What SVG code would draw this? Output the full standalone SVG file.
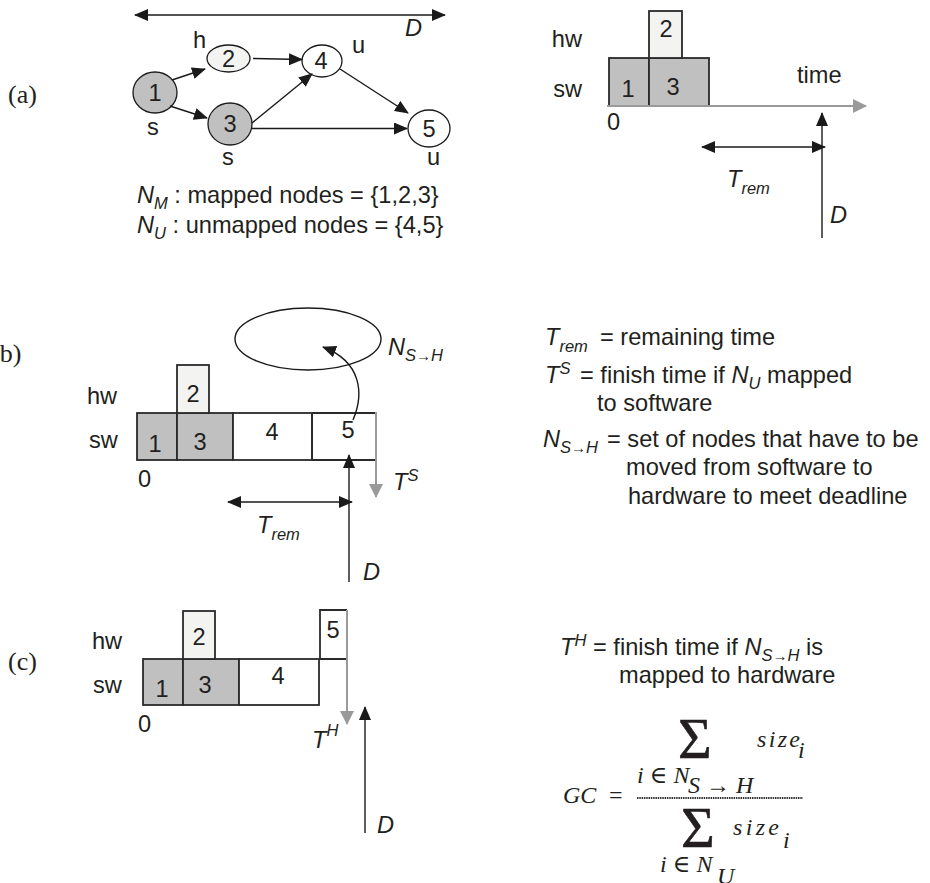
<svg xmlns="http://www.w3.org/2000/svg" width="930" height="883" viewBox="0 0 930 883">
<defs>
<marker id="ah" markerUnits="userSpaceOnUse" markerWidth="14" markerHeight="12" refX="13" refY="6" orient="auto-start-reverse" viewBox="0 0 14 12"><path d="M0,0 L14,6 L0,12 z" fill="#1a1a1a"/></marker>
<marker id="ahg" markerUnits="userSpaceOnUse" markerWidth="14" markerHeight="14" refX="13" refY="7" orient="auto" viewBox="0 0 14 14"><path d="M0,0 L14,7 L0,14 z" fill="#9a9a9a"/></marker>
</defs>
<style>
.t{font-family:"Liberation Sans",Arial,sans-serif;font-size:23.6px;fill:#231f20}
.i{font-style:italic}
.s{font-size:16.5px}
.a{font-size:15px;font-style:normal}
.m{font-family:"Liberation Serif","DejaVu Serif",serif;font-style:italic;font-size:24px;fill:#231f20}
.mr{font-family:"Liberation Serif","DejaVu Serif",serif;font-size:24px;fill:#231f20}
.sig{font-family:"Liberation Serif","DejaVu Serif",serif;font-size:58px;fill:#231f20;stroke:#231f20;stroke-width:0.6}
.lab{font-family:"Liberation Serif","Times New Roman",serif;font-size:26px;fill:#231f20}
.e{stroke:#1a1a1a;stroke-width:1.4;fill:none}
.g{stroke:#9a9a9a;stroke-width:2;fill:none}
.box{stroke:#2a2a2a;stroke-width:1.8}
.nd{stroke:#1a1a1a;stroke-width:1.3}
.dark{fill:#c0c0c0}
.light{fill:#f3f4f2}
.white{fill:#fff}
</style>
<rect width="930" height="883" fill="#fff"/>

<!-- panel labels -->
<text class="lab" x="8" y="103">(a)</text>
<text class="lab" x="-9" y="362">(b)</text>
<text class="lab" x="8" y="670">(c)</text>

<!-- (a) graph nodes -->
<g id="node1"><ellipse class="nd dark" cx="155" cy="92.5" rx="22" ry="20.5"/><text class="t" x="155" y="100.5" text-anchor="middle">1</text></g>
<g id="node2"><ellipse class="nd light" cx="228.5" cy="58.5" rx="21.5" ry="13.5"/><text class="t" x="228.5" y="66.5" text-anchor="middle">2</text></g>
<g id="node3"><ellipse class="nd dark" cx="230" cy="124" rx="22" ry="21"/><text class="t" x="230" y="132" text-anchor="middle">3</text></g>
<g id="node4"><ellipse class="nd white" cx="322" cy="61" rx="20" ry="16"/><text class="t" x="321" y="69" text-anchor="middle">4</text></g>
<g id="node5"><ellipse class="nd white" cx="429" cy="128.5" rx="21" ry="18.5"/><text class="t" x="429" y="136.5" text-anchor="middle">5</text></g>

<!-- (a) top-right schedule -->
<g id="a-sched">
<rect class="box dark" x="609" y="58" width="40" height="48"/>
<rect class="box dark" x="649" y="58" width="60" height="48"/>
<rect class="box light" x="649" y="11" width="33" height="47"/>
<text class="t" x="628" y="97" text-anchor="middle">1</text>
<text class="t" x="673" y="95" text-anchor="middle">3</text>
<text class="t" x="666" y="37" text-anchor="middle">2</text>
</g>

<!-- (b) schedule -->
<g id="b-sched">
<rect class="box dark" x="137" y="413" width="40" height="47"/>
<rect class="box dark" x="177" y="413" width="56" height="47"/>
<rect class="box white" x="233" y="413" width="79" height="47"/>
<path class="box" d="M312,413 H376 M312,460 H376 M312,413 V460" fill="none"/>
<rect class="box light" x="177" y="365" width="32" height="48"/>
<text class="t" x="155" y="452" text-anchor="middle">1</text>
<text class="t" x="200" y="450" text-anchor="middle">3</text>
<text class="t" x="272" y="440" text-anchor="middle">4</text>
<text class="t" x="348" y="438" text-anchor="middle">5</text>
<text class="t" x="193" y="402" text-anchor="middle">2</text>
<ellipse cx="308" cy="339" rx="73" ry="31" fill="none" stroke="#1a1a1a" stroke-width="1.4"/>
</g>

<!-- (c) schedule -->
<g id="c-sched">
<rect class="box dark" x="143" y="659" width="40" height="46"/>
<rect class="box dark" x="183" y="659" width="56" height="46"/>
<rect class="box white" x="239" y="659" width="80" height="46"/>
<rect class="box light" x="183" y="611" width="32" height="48"/>
<path class="box" d="M347,610 H320 V659 H347" fill="#fff"/>
<text class="t" x="162" y="697" text-anchor="middle">1</text>
<text class="t" x="205" y="693" text-anchor="middle">3</text>
<text class="t" x="278" y="684" text-anchor="middle">4</text>
<text class="t" x="199" y="645" text-anchor="middle">2</text>
<text class="t" x="333" y="638" text-anchor="middle">5</text>
</g>

<!-- connectors -->
<g id="connectors">
<line class="e" x1="135" y1="15" x2="445" y2="15" marker-start="url(#ah)" marker-end="url(#ah)"/>
<line class="e" x1="172" y1="80" x2="205" y2="69" marker-end="url(#ah)"/>
<line class="e" x1="170" y1="106" x2="207" y2="118" marker-end="url(#ah)"/>
<line class="e" x1="253" y1="58.5" x2="302" y2="59.5" marker-end="url(#ah)"/>
<line class="e" x1="252" y1="123" x2="312" y2="74" marker-end="url(#ah)"/>
<line class="e" x1="252" y1="128.5" x2="407" y2="128.5" marker-end="url(#ah)"/>
<line class="e" x1="340" y1="69" x2="408" y2="113" marker-end="url(#ah)"/>

<line class="g" x1="607" y1="106" x2="866" y2="106" marker-end="url(#ahg)"/>
<line class="e" x1="822" y1="238" x2="822" y2="113" marker-end="url(#ah)"/>
<line class="e" x1="702" y1="147" x2="825" y2="147" marker-start="url(#ah)" marker-end="url(#ah)"/>

<line class="g" x1="376" y1="412" x2="376" y2="497" marker-end="url(#ahg)"/>
<line class="e" x1="349" y1="582" x2="349" y2="455" marker-end="url(#ah)"/>
<line class="e" x1="228" y1="502" x2="352" y2="502" marker-start="url(#ah)" marker-end="url(#ah)"/>
<path class="e" d="M353,420 C364,394 362,362 323,347" marker-end="url(#ah)"/>

<line class="g" x1="347" y1="610" x2="347" y2="724" marker-end="url(#ahg)"/>
<line class="e" x1="365" y1="833" x2="365" y2="707" marker-end="url(#ah)"/>
</g>

<!-- (a) texts -->
<text class="t i" x="405" y="36">D</text>
<text class="t" x="193" y="48">h</text>
<text class="t" x="352" y="53">u</text>
<text class="t" x="147" y="135">s</text>
<text class="t" x="222" y="165">s</text>
<text class="t" x="427" y="165">u</text>
<text class="t" x="137" y="203"><tspan class="i">N</tspan><tspan class="i s" dy="6">M</tspan><tspan dy="-6"> : mapped nodes = {1,2,3}</tspan></text>
<text class="t" x="137" y="233"><tspan class="i">N</tspan><tspan class="i s" dy="6">U</tspan><tspan dy="-6"> : unmapped nodes = {4,5}</tspan></text>

<text class="t" x="582" y="47" text-anchor="end">hw</text>
<text class="t" x="582" y="97" text-anchor="end">sw</text>
<text class="t" x="797" y="83">time</text>
<text class="t" x="607" y="130">0</text>
<text class="t i" x="830" y="223">D</text>
<text class="t" x="727" y="187"><tspan class="i">T</tspan><tspan class="i s" dy="7">rem</tspan></text>

<!-- (b) texts -->
<text class="t" x="87" y="404">hw</text>
<text class="t" x="89" y="448">sw</text>
<text class="t" x="138" y="487">0</text>
<text class="t" x="393" y="490"><tspan class="i">T</tspan><tspan class="i s" dy="-9">S</tspan></text>
<text class="t i" x="363" y="580">D</text>
<text class="t" x="257" y="533"><tspan class="i">T</tspan><tspan class="i s" dy="7">rem</tspan></text>
<text class="t" x="388" y="355"><tspan class="i">N</tspan><tspan class="i s" dy="6">S</tspan><tspan class="a">→</tspan><tspan class="i s">H</tspan></text>

<text class="t" x="545" y="345"><tspan class="i">T</tspan><tspan class="i s" dy="7">rem</tspan><tspan dy="-7" x="600">= remaining time</tspan></text>
<text class="t" x="545" y="383"><tspan class="i">T</tspan><tspan class="i s" dy="-9">S</tspan><tspan dy="9" x="580">= finish time if </tspan><tspan class="i">N</tspan><tspan class="i s" dy="6">U</tspan><tspan dy="-6"> mapped</tspan></text>
<text class="t" x="597" y="411">to software</text>
<text class="t" x="543" y="447"><tspan class="i">N</tspan><tspan class="i s" dy="6">S</tspan><tspan class="a">→</tspan><tspan class="i s">H</tspan><tspan dy="-6" x="607">= set of nodes that have to be</tspan></text>
<text class="t" x="626" y="475">moved from software to</text>
<text class="t" x="628" y="504">hardware to meet deadline</text>

<!-- (c) texts -->
<text class="t" x="92" y="649">hw</text>
<text class="t" x="93" y="693">sw</text>
<text class="t" x="138" y="732">0</text>
<text class="t" x="312" y="748"><tspan class="i">T</tspan><tspan class="i s" dy="-12">H</tspan></text>
<text class="t i" x="377" y="833">D</text>
<text class="t" x="560" y="655"><tspan class="i">T</tspan><tspan class="i s" dy="-9">H</tspan><tspan dy="9" x="593">= finish time if </tspan><tspan class="i">N</tspan><tspan class="i s" dy="6">S</tspan><tspan class="a">→</tspan><tspan class="i s">H</tspan><tspan dy="-6"> is</tspan></text>
<text class="t" x="619" y="683">mapped to hardware</text>

<!-- formula -->
<g id="formula">
<text class="m" x="563" y="803">GC</text>
<text class="mr" x="609" y="803" fill="#555">=</text>
<line x1="637" y1="798" x2="803" y2="798" stroke="#333" stroke-width="2" stroke-dasharray="1.5 0.8"/>
<text class="sig" x="695" y="758" text-anchor="middle">Σ</text>
<text class="m" x="757" y="747" textLength="43" lengthAdjust="spacing">size</text>
<text class="m" x="798" y="758" font-size="20">i</text>
<text class="m" x="637" y="783">i <tspan class="mr">∈</tspan> N</text>
<text class="m" x="688" y="793" font-size="22">S <tspan font-style="normal">→</tspan> H</text>
<text class="sig" x="698" y="847" text-anchor="middle">Σ</text>
<text class="m" x="733" y="835" textLength="46" lengthAdjust="spacing">size</text>
<text class="m" x="783" y="848" font-size="20">i</text>
<text class="m" x="660" y="872">i <tspan class="mr">∈</tspan> N</text>
<text class="m" x="717" y="884" font-size="22">U</text>
</g>
</svg>
